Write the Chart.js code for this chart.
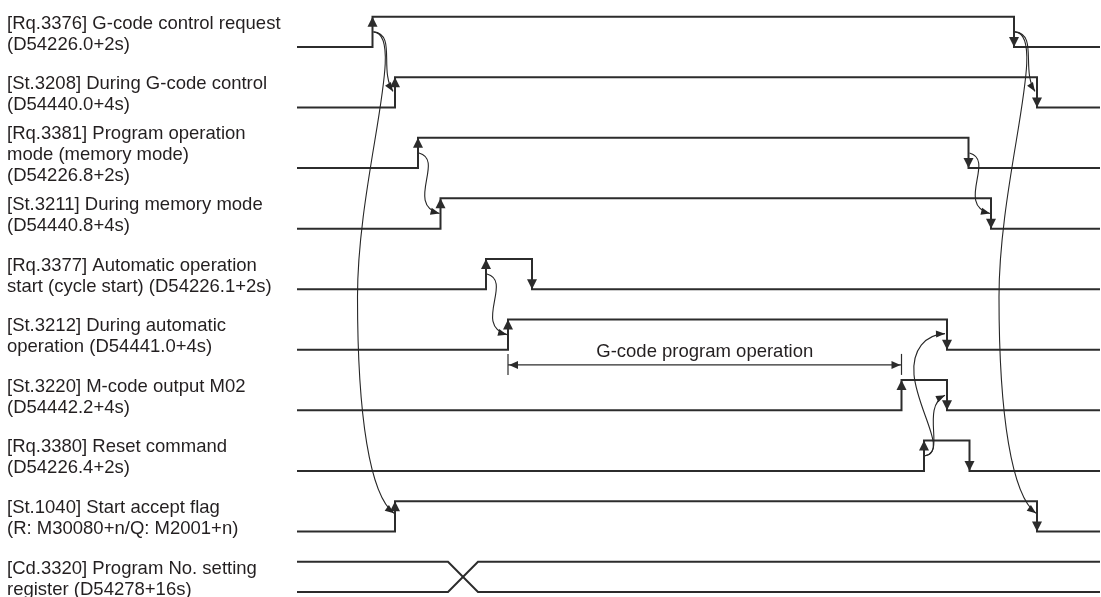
<!DOCTYPE html>
<html>
<head>
<meta charset="utf-8">
<script src="https://cdn.jsdelivr.net/npm/chart.js@4/dist/chart.umd.min.js"></script>
<style>
  html, body { margin: 0; padding: 0; background: #ffffff; }
  #wrap { width: 1101px; height: 597px; }
</style>
</head>
<body>
<div id="wrap"><canvas id="c" width="1101" height="597"></canvas></div>
<script>
// ---------------- data ----------------
const signalLabels = [
  ['[Rq.3376] G-code control request', '(D54226.0+2s)'],
  ['[St.3208] During G-code control', '(D54440.0+4s)'],
  ['[Rq.3381] Program operation', 'mode (memory mode)', '(D54226.8+2s)'],
  ['[St.3211] During memory mode', '(D54440.8+4s)'],
  ['[Rq.3377] Automatic operation', 'start (cycle start) (D54226.1+2s)'],
  ['[St.3212] During automatic', 'operation (D54441.0+4s)'],
  ['[St.3220] M-code output M02', '(D54442.2+4s)'],
  ['[Rq.3380] Reset command', '(D54226.4+2s)'],
  ['[St.1040] Start accept flag', '(R: M30080+n/Q: M2001+n)'],
  ['[Cd.3320] Program No. setting', 'register (D54278+16s)']
];
// ON / OFF times of the bit signals (rows 0..8)
const riseTimes = [75.5, 98, 121, 143.5, 189, 211, 604.5, 627, 98];
const fallTimes = [717, 740, 671.5, 694, 235, 650, 650, 672.5, 740];
// value change window of the register row (row 9)
const registerChange = [151, 181];
const timeEnd = 803;
// G-code program operation span
const operationSpan = [211, 604.5];
const operationLabel = 'G-code program operation';
// cause -> effect links  [fromRow, fromEdge, toRow, toEdge, shape]
const causeLinks = [
  [0, 'rise', 1, 'rise', 'hook'],
  [0, 'rise', 8, 'rise', 'long'],
  [2, 'rise', 3, 'rise', 's'],
  [4, 'rise', 5, 'rise', 's'],
  [0, 'fall', 1, 'fall', 'hook'],
  [0, 'fall', 8, 'fall', 'long'],
  [2, 'fall', 3, 'fall', 's'],
  [7, 'rise', 5, 'fall', 'resetLong'],
  [7, 'rise', 6, 'fall', 'resetShort']
];

// ---------------- build ----------------
const LINE = '#2c2c2c';
const TEXT = '#231f20';
const FONT = "'Liberation Sans', Arial, Helvetica, sans-serif";
const FONT_SIZE = 18.5;
const LABEL_NUDGE = 0.07; // small visual centring of multi-line labels
const hi = r => 2 * r;
const lo = r => 2 * r + 1;

const datasets = [];
riseTimes.forEach((t, r) => {
  datasets.push({
    data: [
      { x: 0, y: lo(r) }, { x: t, y: lo(r) }, { x: t, y: hi(r) },
      { x: fallTimes[r], y: hi(r) }, { x: fallTimes[r], y: lo(r) }, { x: timeEnd, y: lo(r) }
    ]
  });
});
const regRow = signalLabels.length - 1;
datasets.push({ data: [
  { x: 0, y: hi(regRow) }, { x: registerChange[0], y: hi(regRow) },
  { x: registerChange[1], y: lo(regRow) }, { x: timeEnd, y: lo(regRow) }] });
datasets.push({ data: [
  { x: 0, y: lo(regRow) }, { x: registerChange[0], y: lo(regRow) },
  { x: registerChange[1], y: hi(regRow) }, { x: timeEnd, y: hi(regRow) }] });
// dimension line of the program operation
const opLevel = lo(5) + 0.5;
datasets.push({ data: [{ x: operationSpan[0], y: opLevel }, { x: operationSpan[1], y: opLevel }], borderWidth: 1.2 });

datasets.forEach(d => {
  d.borderColor = LINE;
  if (d.borderWidth === undefined) d.borderWidth = 2;
  d.pointRadius = 0;
  d.tension = 0;
  d.fill = false;
  d.clip = false;
});

function tri(ctx, tip, dx, dy, len, wid) {
  const n = Math.hypot(dx, dy); dx /= n; dy /= n;
  const bx = tip[0] - dx * len, by = tip[1] - dy * len;
  ctx.beginPath();
  ctx.moveTo(tip[0], tip[1]);
  ctx.lineTo(bx - dy * wid / 2, by + dx * wid / 2);
  ctx.lineTo(bx + dy * wid / 2, by - dx * wid / 2);
  ctx.closePath();
  ctx.fill();
}

function shapeSegments(kind, a, b) {
  const [xa, ya] = a, [xb, yb] = b;
  const P0 = [xa + 1, ya];
  if (kind === 'hook') {
    return [[P0, [xa + 24, ya + 2], [xb - 16, yb - 22], [xb - 2, yb - 1]]];
  }
  if (kind === 'long') {
    const yT = yb - 3, h = yT - ya;
    const M = [xa - 15, ya + 0.55 * h];
    return [[P0, [xa + 35, ya + 2], [xa - 15, ya + 0.3 * h], M],
            [M, [xa - 15, ya + 0.8 * h], [xb - 25, yT - 18], [xb - 1, yT]]];
  }
  if (kind === 's') {
    return [[P0, [xa + 27, ya + 7], [xa - 13, yb - 9], [xb - 1, yb]]];
  }
  if (kind === 'resetShort') {
    return [[P0, [xa + 22, ya - 2], [xa - 4, yb + 12], [xb - 2, yb]]];
  }
  // resetLong
  const M = [xa - 10, yb + 40];
  return [[P0, [xa + 24, ya - 4], [xa - 7, yb + 75], M],
          [M, [xa - 12, yb + 15], [xa + 1, yb], [xb - 2, yb - 1]]];
}

const timingPlugin = {
  id: 'timing',
  afterDatasetsDraw(chart) {
    const ctx = chart.ctx, xs = chart.scales.x, ys = chart.scales.y;
    const X = v => xs.getPixelForValue(v), Y = v => ys.getPixelForValue(v);
    ctx.save();
    ctx.fillStyle = LINE;
    // edge arrowheads on the bit signals
    riseTimes.forEach((t, r) => {
      tri(ctx, [X(t), Y(hi(r))], 0, -1, 10, 10);
      tri(ctx, [X(fallTimes[r]), Y(lo(r))], 0, 1, 10, 10);
    });
    // dimension line ends
    const yOp = Y(opLevel);
    ctx.strokeStyle = LINE; ctx.lineWidth = 1.2;
    [operationSpan[0], operationSpan[1]].forEach(t => {
      ctx.beginPath(); ctx.moveTo(X(t), yOp - 11); ctx.lineTo(X(t), yOp + 10); ctx.stroke();
    });
    tri(ctx, [X(operationSpan[0]) + 1, yOp], -1, 0, 9, 8);
    tri(ctx, [X(operationSpan[1]) - 1, yOp], 1, 0, 9, 8);
    ctx.fillStyle = TEXT;
    ctx.font = FONT_SIZE + 'px ' + FONT;
    ctx.textAlign = 'center'; ctx.textBaseline = 'middle';
    ctx.fillText(operationLabel, (X(operationSpan[0]) + X(operationSpan[1])) / 2, Y(opLevel - 0.5 + LABEL_NUDGE));
    // cause -> effect curves
    ctx.strokeStyle = '#262626'; ctx.fillStyle = '#262626'; ctx.lineWidth = 1.1;
    causeLinks.forEach(([fr, fe, tr, te, kind]) => {
      const ft = (fe === 'rise' ? riseTimes : fallTimes)[fr];
      const tt = (te === 'rise' ? riseTimes : fallTimes)[tr];
      const a = [X(ft), Y(hi(fr) + 0.5)], b = [X(tt), Y(hi(tr) + 0.5)];
      const segs = shapeSegments(kind, a, b);
      ctx.beginPath();
      ctx.moveTo(segs[0][0][0], segs[0][0][1]);
      segs.forEach(s => ctx.bezierCurveTo(s[1][0], s[1][1], s[2][0], s[2][1], s[3][0], s[3][1]));
      ctx.stroke();
      const last = segs[segs.length - 1];
      tri(ctx, last[3], last[3][0] - last[2][0], last[3][1] - last[2][1], 9, 7);
    });
    ctx.restore();
  }
};

Chart.defaults.font.family = FONT;
new Chart(document.getElementById('c'), {
  type: 'line',
  data: { datasets },
  options: {
    responsive: false,
    animation: false,
    layout: { padding: { left: 7, top: 16.7, right: 1, bottom: 5 } },
    plugins: { legend: { display: false }, tooltip: { enabled: false } },
    scales: {
      x: { type: 'linear', min: 0, max: timeEnd, display: false },
      y: {
        type: 'linear', min: 0, max: 19, reverse: true, position: 'left',
        grid: { display: false }, border: { display: false },
        afterBuildTicks: s => { s.ticks = signalLabels.map((_, i) => ({ value: hi(i) + 0.5 + LABEL_NUDGE })); },
        afterFit: s => { s.width = 290; s.paddingTop = 0; s.paddingBottom = 0; },
        ticks: {
          autoSkip: false, crossAlign: 'far', padding: 0, color: TEXT,
          font: { family: FONT, size: FONT_SIZE, lineHeight: 21 / FONT_SIZE },
          callback: (v, i) => signalLabels[i]
        }
      }
    }
  },
  plugins: [timingPlugin]
});
</script>
</body>
</html>
